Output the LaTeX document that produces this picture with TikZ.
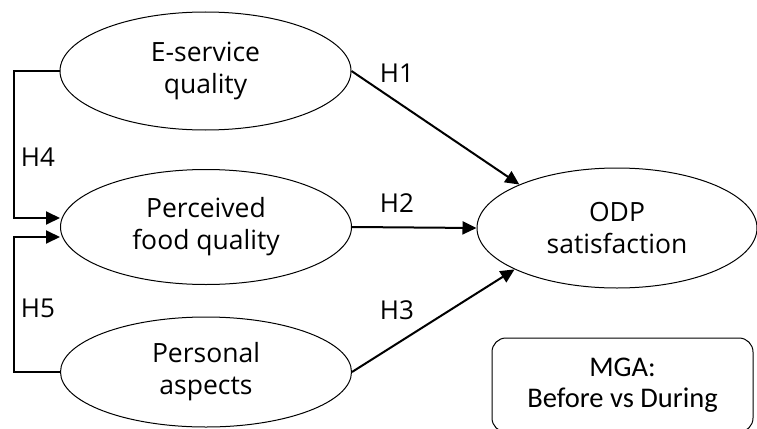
\documentclass[tikz,border=0pt]{standalone}
\usepackage{fontspec}
\setmainfont{Open Sans}
\newfontfamily\boxfont{Carlito}
\usetikzlibrary{shapes.geometric,arrows.meta,calc}
\begin{document}
\begin{tikzpicture}[x=1pt,y=-1pt,
  oval/.style={ellipse,draw,line width=1pt,inner sep=0pt,align=center,font=\fontsize{26.5}{32}\selectfont},
  conn/.style={line width=2pt,-{Triangle[length=14pt,width=13pt]}},
  lbl/.style={font=\fontsize{26}{30}\selectfont,inner sep=0pt}]
\fill[white] (0,0) rectangle (757,428);
\useasboundingbox (0,0) rectangle (757,428);
\node[oval,minimum width=291pt,minimum height=118pt] (es) at (205.5,71) {E-service\\quality};
\node[oval,minimum width=291pt,minimum height=115pt] (pf) at (206,227) {Perceived\\food quality};
\node[oval,minimum width=291pt,minimum height=110pt] (pa) at (206,372) {Personal\\aspects};
\node[oval,minimum width=280pt,minimum height=120pt] (odp) at (617,228) {ODP\\satisfaction};
\node[draw,line width=1pt,rounded corners=14pt,minimum width=261pt,minimum height=94pt,align=center,inner sep=0pt,font=\boxfont\fontsize{28.5}{30.5}\selectfont] (mga) at (622.5,385) {MGA:\\Before vs During};
\draw[conn] (es.east) -- (odp.156);
\draw[conn] (pf.east) -- (odp.west);
\draw[conn] (pa.east) -- (odp.202);
\draw[conn] (es.west) -- ++(-46,0) |- ($(pf.west)+(0,-9)$);
\draw[conn] (pa.west) -- ++(-46,0) |- ($(pf.west)+(0,10)$);
\node[lbl] (h1) at (397,73) {H1};
\node[lbl] (h2) at (397,203) {H2};
\node[lbl] (h3) at (397,310) {H3};
\node[lbl] (h4) at (38,157) {H4};
\node[lbl] (h5) at (38,308) {H5};
\end{tikzpicture}
\end{document}
